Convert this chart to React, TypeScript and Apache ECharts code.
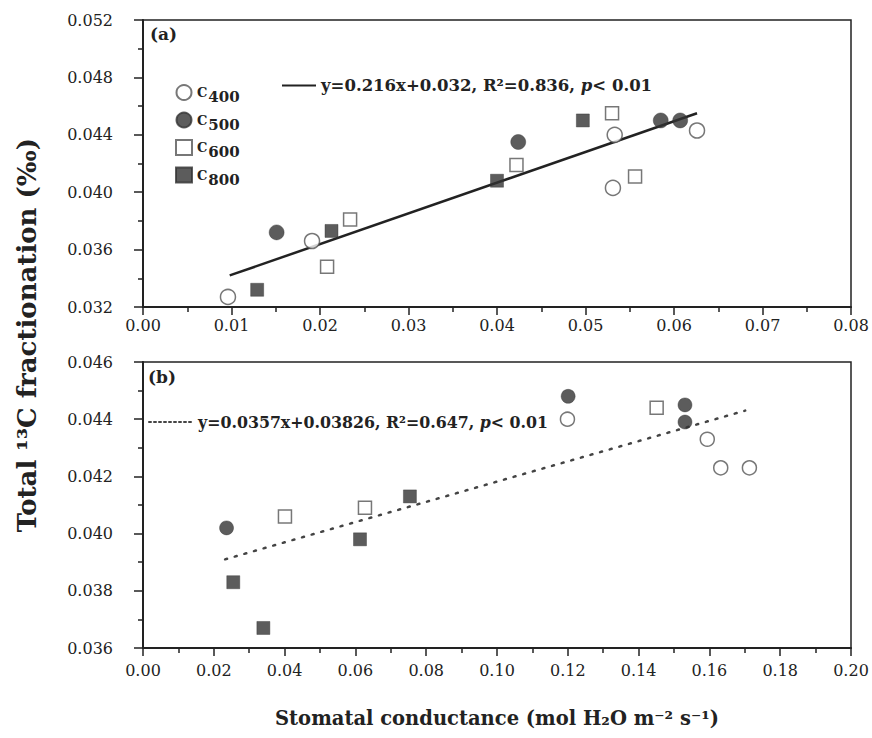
import React, { useEffect, useRef } from "react";
import * as echarts from "echarts";

// ---------- data ----------
const groupNames = ["C400", "C500", "C600", "C800"];

// Panel (a): [stomatal conductance, total 13C fractionation]
const a400 = [[0.0096, 0.0327], [0.0191, 0.0366], [0.0533, 0.044], [0.0531, 0.0403], [0.0626, 0.0443]];
const a500 = [[0.0151, 0.0372], [0.0424, 0.0435], [0.0585, 0.045], [0.0607, 0.045]];
const a600 = [[0.0208, 0.0348], [0.0234, 0.0381], [0.0422, 0.0419], [0.053, 0.0455], [0.0556, 0.0411]];
const a800 = [[0.0129, 0.0332], [0.0213, 0.0373], [0.04, 0.0408], [0.0497, 0.045]];
const aFit = [[0.0098, 0.0342], [0.0626, 0.0455]];

// Panel (b)
const b400 = [[0.1199, 0.044], [0.1594, 0.0433], [0.1632, 0.0423], [0.1713, 0.0423]];
const b500 = [[0.0236, 0.0402], [0.1201, 0.0448], [0.1531, 0.0445], [0.1531, 0.0439]];
const b600 = [[0.0401, 0.0406], [0.0627, 0.0409], [0.1451, 0.0444]];
const b800 = [[0.0255, 0.0383], [0.034, 0.0367], [0.0613, 0.0398], [0.0754, 0.0413]];
const bFit = [[0.0232, 0.0391], [0.1701, 0.0443]];

// axis ticks
const xTicksA = [0, 0.01, 0.02, 0.03, 0.04, 0.05, 0.06, 0.07, 0.08];
const yTicksA = [0.032, 0.036, 0.04, 0.044, 0.048, 0.052];
const xTicksB = [0, 0.02, 0.04, 0.06, 0.08, 0.1, 0.12, 0.14, 0.16, 0.18, 0.2];
const yTicksB = [0.036, 0.038, 0.04, 0.042, 0.044, 0.046];

const fitAName = "fitA";
const fitBName = "fitB";
const fitAText = "y=0.216x+0.032, R²=0.836, ";
const fitBText = "y=0.0357x+0.03826, R²=0.647, ";
const pText = "< 0.01";

const FONT = "DejaVu Serif";
const INK = "#222";

const openStyle = { color: "#ffffff", borderColor: "#555", borderWidth: 1.5 };
const fillStyle = { color: "#333", borderColor: "#333", borderWidth: 0.5 };

function axisRange(t: number[]) {
  return { min: t[0], max: t[t.length - 1], interval: +(t[1] - t[0]).toFixed(6) };
}

function xAxisCfg(ticks: number[], grid: number, extra: any = {}) {
  return {
    type: "value",
    gridIndex: grid,
    ...axisRange(ticks),
    axisLine: { show: true, onZero: false, lineStyle: { color: INK, width: 2 } },
    axisTick: { show: true, inside: false, length: 8, lineStyle: { color: INK, width: 1.5 } },
    minorTick: { show: true, splitNumber: 2, length: 5, lineStyle: { color: INK, width: 1.5 } },
    splitLine: { show: false },
    axisLabel: {
      margin: grid === 0 ? 10 : 14,
      color: INK,
      fontFamily: FONT,
      fontSize: 16,
      formatter: (v: number) => v.toFixed(2),
    },
    ...extra,
  };
}

function yAxisCfg(ticks: number[], grid: number) {
  return {
    type: "value",
    gridIndex: grid,
    ...axisRange(ticks),
    axisLine: { show: true, onZero: false, lineStyle: { color: INK, width: 2 } },
    axisTick: { show: true, inside: false, length: 9, lineStyle: { color: INK, width: 1.5 } },
    minorTick: { show: true, splitNumber: 2, length: 5, lineStyle: { color: INK, width: 1.5 } },
    splitLine: { show: false },
    axisLabel: {
      margin: 30,
      color: INK,
      fontFamily: FONT,
      fontSize: 16,
      formatter: (v: number) => v.toFixed(3),
    },
  };
}

function scatter(name: string, data: number[][], idx: number, open: boolean, symbol: string, size: number) {
  return {
    type: "scatter",
    name,
    xAxisIndex: idx,
    yAxisIndex: idx,
    data,
    symbol,
    symbolSize: size,
    itemStyle: open ? openStyle : fillStyle,
    z: 3,
  };
}

function eqRich(size: number) {
  return {
    t: { fontFamily: FONT, fontWeight: "bold", fontSize: size, color: INK },
    i: { fontFamily: FONT, fontWeight: "bold", fontStyle: "italic", fontSize: size, color: INK },
  };
}

const hiddenSymbol = { color: "rgba(0,0,0,0)", borderWidth: 0, opacity: 0 };

export default function App() {
  const ref = useRef<HTMLDivElement>(null);

  useEffect(() => {
    if (!ref.current) return;
    const chart = echarts.init(ref.current, null, { renderer: "svg" });
    const sets = [
      [a400, a500, a600, a800],
      [b400, b500, b600, b800],
    ];
    const series: any[] = [];
    sets.forEach((grp, idx) => {
      grp.forEach((d, k) => {
        const open = k === 0 || k === 2;
        const sym = k < 2 ? "circle" : "rect";
        const size = k < 2 ? (idx === 0 ? 15 : 14) : 13;
        series.push(scatter(groupNames[k], d, idx, open, sym, size));
      });
    });
    series.push({
      type: "line",
      name: fitAName,
      xAxisIndex: 0,
      yAxisIndex: 0,
      data: aFit,
      symbol: "none",
      itemStyle: { color: INK },
      lineStyle: { color: INK, width: 2.5 },
      z: 2,
    });
    series.push({
      type: "line",
      name: fitBName,
      xAxisIndex: 1,
      yAxisIndex: 1,
      data: bFit,
      symbol: "none",
      itemStyle: { color: "#444" },
      lineStyle: { color: "#444", width: 2.5, type: [2, 8], cap: "round" },
      z: 2,
    });

    chart.setOption({
      animation: false,
      backgroundColor: "#ffffff",
      grid: [
        { left: 143, top: 20, width: 708, height: 287, show: true, borderColor: INK, borderWidth: 1.5, backgroundColor: "transparent" },
        { left: 143, top: 362, width: 708, height: 286, show: true, borderColor: INK, borderWidth: 1.5, backgroundColor: "transparent" },
      ],
      xAxis: [
        xAxisCfg(xTicksA, 0),
        xAxisCfg(xTicksB, 1, {
          name: "Stomatal conductance (mol H₂O m⁻² s⁻¹)",
          nameLocation: "middle",
          nameGap: 60,
          nameTextStyle: { fontFamily: FONT, fontWeight: "bold", fontSize: 19.5, color: INK },
        }),
      ],
      yAxis: [yAxisCfg(yTicksA, 0), yAxisCfg(yTicksB, 1)],
      legend: [
        {
          data: groupNames,
          orient: "vertical",
          left: 170,
          top: 79,
          itemWidth: 16,
          itemHeight: 15,
          itemGap: 7,
          formatter: (n: string) => `{c|C}{s|${n.slice(1)}}`,
          textStyle: {
            rich: {
              c: { fontFamily: FONT, fontSize: 13, color: INK, fontWeight: "bold" },
              s: { fontFamily: FONT, fontSize: 15, color: INK, fontWeight: "bold", padding: [9, 0, 0, 1] },
            },
          },
        },
        {
          data: [fitAName],
          left: 276,
          top: 72,
          itemWidth: 34,
          itemHeight: 14,
          itemGap: 6,
          itemStyle: hiddenSymbol,
          formatter: () => `{t|${fitAText}}{i|p}{t|${pText}}`,
          textStyle: { rich: eqRich(16.5) },
        },
        {
          data: [fitBName],
          left: 143,
          top: 409,
          itemWidth: 44,
          itemHeight: 14,
          itemGap: 3,
          itemStyle: hiddenSymbol,
          lineStyle: { type: [2, 3], width: 2, color: "#444" },
          formatter: () => `{t|${fitBText}}{i|p}{t|${pText}}`,
          textStyle: { rich: eqRich(15.8) },
        },
      ],
      graphic: [
        {
          type: "text",
          left: 150,
          top: 25,
          style: { text: "(a)", font: `bold 17px '${FONT}'`, fill: INK },
        },
        {
          type: "text",
          left: 148,
          top: 368,
          style: { text: "(b)", font: `bold 17px '${FONT}'`, fill: INK },
        },
        {
          type: "text",
          x: 27,
          y: 335,
          rotation: Math.PI / 2,
          style: {
            text: "Total ¹³C fractionation (‰)",
            font: `bold 26px '${FONT}'`,
            fill: INK,
            align: "center",
            verticalAlign: "middle",
          },
        },
      ],
      series,
    });
    return () => chart.dispose();
  }, []);

  return (
    <div
      ref={ref}
      style={{ position: "fixed", left: 0, top: 0, width: 872, height: 738, background: "#fff" }}
    />
  );
}
